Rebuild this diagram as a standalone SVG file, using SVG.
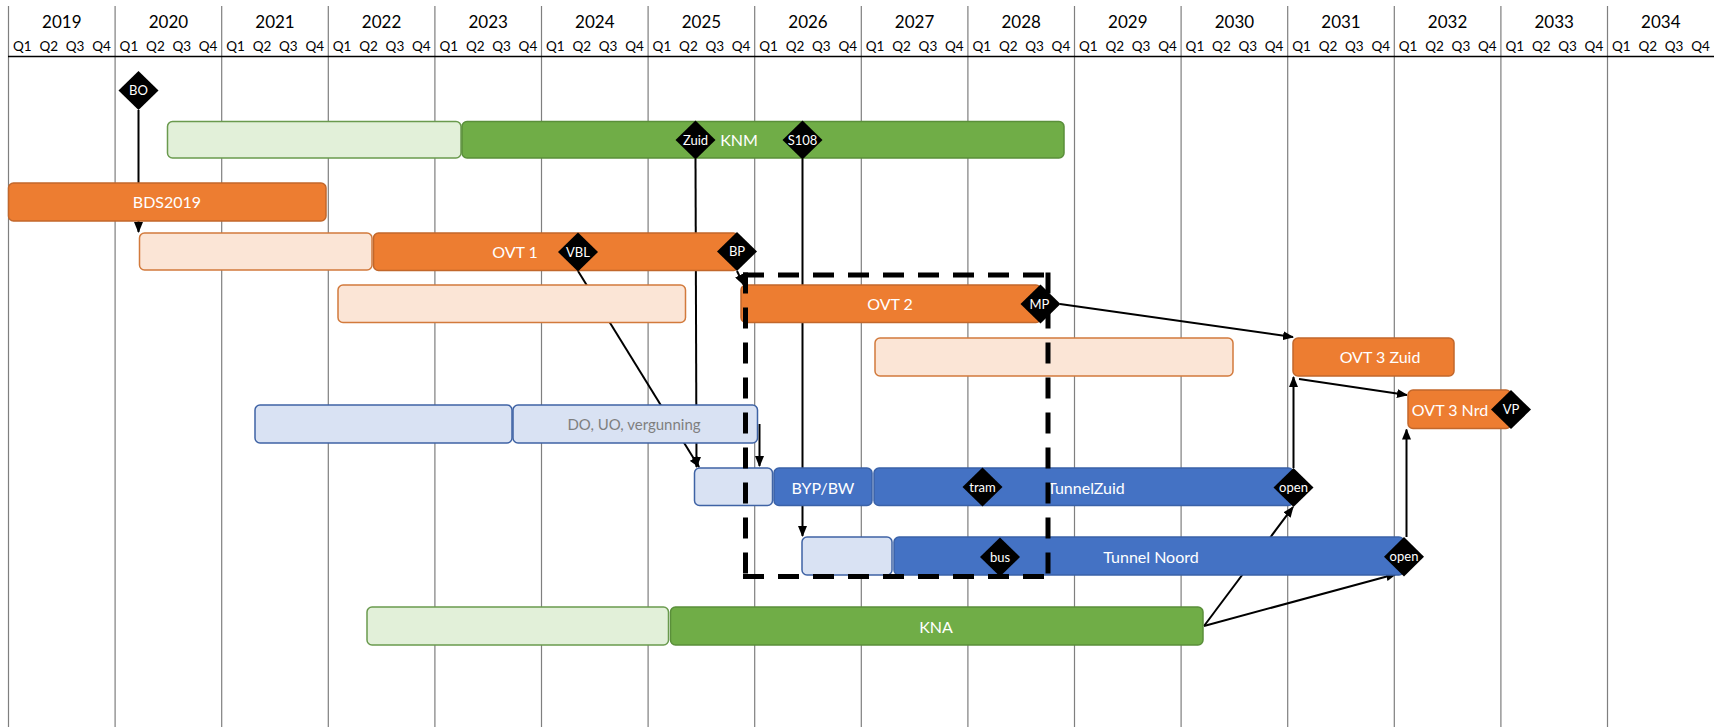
<svg xmlns="http://www.w3.org/2000/svg" width="1721" height="727" viewBox="0 0 1721 727">
<style>
.bg{fill:#ffffff}
.grid{stroke:#7f7f7f;stroke-width:1.2;fill:none}
.hline{stroke:#000;stroke-width:1.3}
.yr{font-family:Lato,"Liberation Sans",sans-serif;font-size:17px;fill:#000;text-anchor:middle}
.q{font-family:Lato,"Liberation Sans",sans-serif;font-size:13.5px;fill:#000;text-anchor:middle}
.o{fill:#ED7D31;stroke:#C2672B;stroke-width:1.5}
.lo{fill:#FBE5D6;stroke:#D27A3C;stroke-width:1.5}
.g{fill:#70AD47;stroke:#5A8F3A;stroke-width:1.5}
.lg{fill:#E2F0D9;stroke:#6A9A4E;stroke-width:1.5}
.b{fill:#4472C4;stroke:#3A62A8;stroke-width:1.5}
.lb{fill:#D9E2F3;stroke:#3F63A5;stroke-width:1.5}
.lbl{font-family:Lato,"Liberation Sans",sans-serif;font-size:16px;fill:#fff;text-anchor:middle}
.lblg{font-family:Lato,"Liberation Sans",sans-serif;font-size:15px;fill:#7f7f7f;text-anchor:middle}
.dm{fill:#000}
.dml{font-family:Lato,"Liberation Sans",sans-serif;font-size:13px;fill:#fff;text-anchor:middle}
.con{stroke:#000;stroke-width:2;fill:none;marker-end:url(#ah)}
.dash{fill:none;stroke:#000;stroke-width:5;stroke-dasharray:21 14}
</style>
<defs>
<marker id="ah" markerUnits="userSpaceOnUse" markerWidth="11" markerHeight="9" refX="10" refY="4.5" orient="auto">
<path d="M0,0 L11,4.5 L0,9 z" fill="#000"/>
</marker>
</defs>
<rect class="bg" x="0" y="0" width="1721" height="727"/>
<g id="grid">
<path class="grid" d="M8.5,6V727M115.1,6V727M221.7,6V727M328.3,6V727M434.9,6V727M541.5,6V727M648.1,6V727M754.7,6V727M861.3,6V727M967.9,6V727M1074.5,6V727M1181.1,6V727M1287.7,6V727M1394.3,6V727M1500.9,6V727M1607.5,6V727"/>
<line class="hline" x1="8" y1="56.5" x2="1714" y2="56.5"/>
<g class="yr">
<text x="61.8" y="28">2019</text><text x="168.4" y="28">2020</text><text x="275" y="28">2021</text><text x="381.6" y="28">2022</text><text x="488.2" y="28">2023</text><text x="594.8" y="28">2024</text><text x="701.4" y="28">2025</text><text x="808" y="28">2026</text><text x="914.6" y="28">2027</text><text x="1021.2" y="28">2028</text><text x="1127.8" y="28">2029</text><text x="1234.4" y="28">2030</text><text x="1341" y="28">2031</text><text x="1447.6" y="28">2032</text><text x="1554.2" y="28">2033</text><text x="1660.8" y="28">2034</text>
</g>
<g class="q" id="quarters">
<text x="22.3" y="50.5">Q1</text><text x="48.8" y="50.5">Q2</text><text x="75.1" y="50.5">Q3</text><text x="101.5" y="50.5">Q4</text>
<text x="128.9" y="50.5">Q1</text><text x="155.4" y="50.5">Q2</text><text x="181.7" y="50.5">Q3</text><text x="208.1" y="50.5">Q4</text>
<text x="235.5" y="50.5">Q1</text><text x="262" y="50.5">Q2</text><text x="288.3" y="50.5">Q3</text><text x="314.7" y="50.5">Q4</text>
<text x="342.1" y="50.5">Q1</text><text x="368.6" y="50.5">Q2</text><text x="394.9" y="50.5">Q3</text><text x="421.3" y="50.5">Q4</text>
<text x="448.7" y="50.5">Q1</text><text x="475.2" y="50.5">Q2</text><text x="501.5" y="50.5">Q3</text><text x="527.9" y="50.5">Q4</text>
<text x="555.3" y="50.5">Q1</text><text x="581.8" y="50.5">Q2</text><text x="608.1" y="50.5">Q3</text><text x="634.5" y="50.5">Q4</text>
<text x="661.9" y="50.5">Q1</text><text x="688.4" y="50.5">Q2</text><text x="714.7" y="50.5">Q3</text><text x="741.1" y="50.5">Q4</text>
<text x="768.5" y="50.5">Q1</text><text x="795" y="50.5">Q2</text><text x="821.3" y="50.5">Q3</text><text x="847.7" y="50.5">Q4</text>
<text x="875.1" y="50.5">Q1</text><text x="901.6" y="50.5">Q2</text><text x="927.9" y="50.5">Q3</text><text x="954.3" y="50.5">Q4</text>
<text x="981.7" y="50.5">Q1</text><text x="1008.2" y="50.5">Q2</text><text x="1034.5" y="50.5">Q3</text><text x="1060.9" y="50.5">Q4</text>
<text x="1088.3" y="50.5">Q1</text><text x="1114.8" y="50.5">Q2</text><text x="1141.1" y="50.5">Q3</text><text x="1167.5" y="50.5">Q4</text>
<text x="1194.9" y="50.5">Q1</text><text x="1221.4" y="50.5">Q2</text><text x="1247.7" y="50.5">Q3</text><text x="1274.1" y="50.5">Q4</text>
<text x="1301.5" y="50.5">Q1</text><text x="1328" y="50.5">Q2</text><text x="1354.3" y="50.5">Q3</text><text x="1380.7" y="50.5">Q4</text>
<text x="1408.1" y="50.5">Q1</text><text x="1434.6" y="50.5">Q2</text><text x="1460.9" y="50.5">Q3</text><text x="1487.3" y="50.5">Q4</text>
<text x="1514.7" y="50.5">Q1</text><text x="1541.2" y="50.5">Q2</text><text x="1567.5" y="50.5">Q3</text><text x="1593.9" y="50.5">Q4</text>
<text x="1621.3" y="50.5">Q1</text><text x="1647.8" y="50.5">Q2</text><text x="1674.1" y="50.5">Q3</text><text x="1700.5" y="50.5">Q4</text>
</g>
</g>
<g id="connectors">
<path class="con" d="M138.5,110 L138.5,232"/>
<path class="con" d="M695.5,159 L696.5,467"/>
<path class="con" d="M802.5,159 L802.5,536"/>
<path class="con" d="M578,271 L699,467"/>
<path class="con" d="M737,271 L743.5,284.5"/>
<path class="con" d="M759.5,424 L759.5,466"/>
<path class="con" d="M1060,304 L1293,337"/>
<path class="con" d="M1299,379 L1407,395"/>
<path class="con" d="M1293.5,468 L1293.5,377"/>
<path class="con" d="M1406.5,537 L1406.5,429.5"/>
<path class="con" d="M1204,626 L1293,507"/>
<path class="con" d="M1204,626 L1396,574"/>
</g>
<g id="knm-prep"><rect class="lg" x="167.5" y="121.5" width="293.5" height="36.5" rx="5"/></g>
<g id="knm"><rect class="g" x="462" y="121.5" width="602" height="36.5" rx="5"/><text class="lbl" x="739" y="146">KNM</text></g>
<g id="bds2019"><rect class="o" x="8.5" y="183" width="317.5" height="38" rx="5"/><text class="lbl" x="167" y="208">BDS2019</text></g>
<g id="ovt1-prep"><rect class="lo" x="139.5" y="233" width="232.5" height="37" rx="5"/></g>
<g id="ovt1"><rect class="o" x="373.5" y="233" width="365" height="37.5" rx="5"/><text class="lbl" x="515" y="258">OVT 1</text></g>
<g id="ovt2-prep"><rect class="lo" x="338" y="285" width="347.5" height="37.5" rx="5"/></g>
<g id="ovt2"><rect class="o" x="741" y="285" width="300" height="37.5" rx="5"/><text class="lbl" x="890" y="310">OVT 2</text></g>
<g id="ovt3zuid-prep"><rect class="lo" x="875" y="338" width="358" height="38" rx="5"/></g>
<g id="ovt3zuid"><rect class="o" x="1293" y="338" width="161" height="38" rx="5"/><text class="lbl" x="1380" y="363">OVT 3 Zuid</text></g>
<g id="do-prep"><rect class="lb" x="255" y="405" width="257" height="38" rx="5"/></g>
<g id="do-uo"><rect class="lb" x="513" y="405" width="244.5" height="38" rx="5"/><text class="lblg" x="634" y="430">DO, UO, vergunning</text></g>
<g id="ovt3nrd"><rect class="o" x="1408" y="390" width="103" height="38.5" rx="5"/><text class="lbl" x="1450" y="415.5">OVT 3 Nrd</text></g>
<g id="tz-prep"><rect class="lb" x="694.5" y="468" width="78" height="37.5" rx="5"/></g>
<g id="byp-bw"><rect class="b" x="774" y="468" width="98" height="37.5" rx="5"/><text class="lbl" x="823" y="493.5">BYP/BW</text></g>
<g id="tunnel-zuid"><rect class="b" x="874" y="468" width="419.5" height="37.5" rx="5"/><text class="lbl" x="1086" y="493.5">TunnelZuid</text></g>
<g id="tn-prep"><rect class="lb" x="802" y="537" width="90" height="38" rx="5"/></g>
<g id="tunnel-noord"><rect class="b" x="894" y="537" width="510" height="38" rx="5"/><text class="lbl" x="1151" y="562.5">Tunnel Noord</text></g>
<g id="kna-prep"><rect class="lg" x="367" y="607" width="301.5" height="38" rx="5"/></g>
<g id="kna"><rect class="g" x="670.5" y="607" width="532.5" height="38" rx="5"/><text class="lbl" x="936" y="632.5">KNA</text></g>
<g id="ms-bo"><path class="dm" d="M138.5,71 L158.5,90.5 L138.5,110 L118.5,90.5 z"/><text class="dml" x="138.5" y="95">BO</text></g>
<g id="ms-zuid"><path class="dm" d="M695.5,120.5 L715.5,140 L695.5,159.5 L675.5,140 z"/><text class="dml" x="695.5" y="144.5">Zuid</text></g>
<g id="ms-s108"><path class="dm" d="M802.5,120.5 L822.5,140 L802.5,159.5 L782.5,140 z"/><text class="dml" x="802.5" y="144.5">S108</text></g>
<g id="ms-vbl"><path class="dm" d="M578,232.5 L598,252 L578,271.5 L558,252 z"/><text class="dml" x="578" y="256.5">VBL</text></g>
<g id="ms-bp"><path class="dm" d="M737,232 L757,251.5 L737,271 L717,251.5 z"/><text class="dml" x="737" y="256">BP</text></g>
<g id="ms-mp"><path class="dm" d="M1040.5,284.5 L1060.5,304 L1040.5,323.5 L1020.5,304 z"/><text class="dml" x="1039.5" y="308.5">MP</text></g>
<g id="ms-vp"><path class="dm" d="M1511,390 L1531,409.5 L1511,429 L1491,409.5 z"/><text class="dml" x="1511" y="414">VP</text></g>
<g id="ms-tram"><path class="dm" d="M982.5,467.5 L1002.5,487 L982.5,506.5 L962.5,487 z"/><text class="dml" x="982.5" y="491.5">tram</text></g>
<g id="ms-open-zuid"><path class="dm" d="M1293.5,468 L1313.5,487.5 L1293.5,507 L1273.5,487.5 z"/><text class="dml" x="1293.5" y="492">open</text></g>
<g id="ms-bus"><path class="dm" d="M1000,537.5 L1020,557 L1000,576.5 L980,557 z"/><text class="dml" x="1000" y="561.5">bus</text></g>
<g id="ms-open-noord"><path class="dm" d="M1404,537 L1424,556.7 L1404,576.4 L1384,556.7 z"/><text class="dml" x="1404" y="561.2">open</text></g>
<g id="focus-box">
<line class="dash" x1="743" y1="275" x2="1050.5" y2="275"/>
<line class="dash" x1="1048" y1="272.5" x2="1048" y2="579"/>
<line class="dash" x1="745.5" y1="272.5" x2="745.5" y2="579"/>
<line class="dash" x1="743" y1="576.5" x2="1050.5" y2="576.5"/>
</g>
</svg>
